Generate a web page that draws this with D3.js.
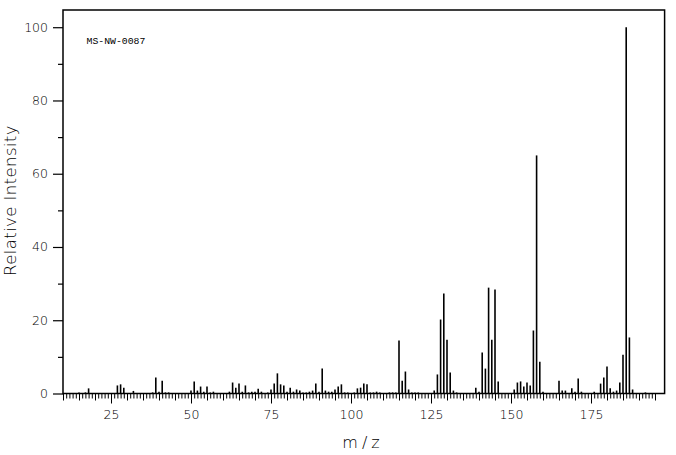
<!DOCTYPE html>
<html>
<head>
<meta charset="utf-8">
<script src="https://cdn.jsdelivr.net/npm/d3@7/dist/d3.min.js"></script>
<style>
  html, body { margin: 0; padding: 0; background: #fff; }
  svg { display: block; }
</style>
</head>
<body>
<svg id="chart" width="676" height="455"></svg>
<script>
// ---- data ----
const mzValues = [15,17,18,27,28,29,32,38,39,40,41,42,43,50,51,52,53,54,55,56,57,
  62,63,64,65,66,67,68,69,70,71,72,74,75,76,77,78,79,80,81,82,83,84,85,86,87,88,89,90,
  91,92,93,94,95,96,97,98,99,101,102,103,104,105,106,107,108,109,112,113,114,
  115,116,117,118,119,120,121,126,127,128,129,130,131,132,133,139,140,141,142,143,144,
  145,146,151,152,153,154,155,156,157,158,159,160,165,166,167,169,170,171,172,176,
  178,179,180,181,182,183,184,185,186,187,188,192];
const intensities = [0.3,0.3,1.4,2.2,2.5,1.6,0.7,0.3,4.4,0.5,3.5,0.3,0.3,0.8,3.3,0.8,1.9,0.5,1.9,0.3,0.5,
  0.5,3.0,1.6,2.7,0.5,2.2,0.3,0.5,0.5,1.3,0.5,0.3,1.1,2.7,5.5,2.5,2.2,0.5,1.6,0.5,1.1,0.8,0.3,0.3,0.5,0.8,2.7,0.5,
  6.8,0.8,0.5,0.5,1.1,1.9,2.5,0.3,0.3,0.3,1.4,1.6,2.7,2.5,0.3,0.3,0.5,0.3,0.3,0.3,0.3,
  14.5,3.5,6.0,1.1,0.3,0.3,0.3,0.8,5.2,20.2,27.3,14.7,5.7,0.8,0.3,1.6,0.5,11.2,6.8,28.9,14.7,
  28.4,3.3,1.1,3.0,3.3,1.9,3.0,2.2,17.2,65.0,8.7,0.5,3.5,0.8,0.8,1.4,0.5,4.1,0.5,0.5,
  2.7,4.4,7.4,1.4,0.5,0.8,3.0,10.6,100,15.3,1.1,0.3];
const xDomain = [10, 198];
const yDomain = [0, 104.7];
const xTickValues = d3.range(10, 196, 1);
const xLabelValues = [25, 50, 75, 100, 125, 150, 175];
const yTickValues = [0, 10, 20, 30, 40, 50, 60, 70, 80, 90, 100];
const yLabelValues = [0, 20, 40, 60, 80, 100];
const sampleLabel = "MS-NW-0087";
const xTitle = "m/z";
const yTitle = "Relative Intensity";

// ---- layout ----
const plotLeft = 63, plotRight = 664.6, plotTop = 10, plotBottom = 393.5;
const svg = d3.select("#chart");
const font = "'DejaVu Sans', sans-serif";

const x = d3.scaleLinear().domain(xDomain).range([plotLeft, plotRight]);
const y = d3.scaleLinear().domain(yDomain).range([plotBottom, plotTop]);

// bars
svg.append("g")
  .selectAll("line")
  .data(mzValues.map((m, i) => ({ m, v: intensities[i] })))
  .join("line")
  .attr("x1", d => x(d.m)).attr("x2", d => x(d.m))
  .attr("y1", y(0)).attr("y2", d => y(d.v))
  .attr("stroke", "#000").attr("stroke-width", 1.6);

// x axis
const xAxis = svg.append("g")
  .attr("transform", `translate(0,${plotBottom})`)
  .call(d3.axisBottom(x)
    .tickValues(xTickValues)
    .tickSize(5)
    .tickSizeOuter(0)
    .tickFormat(d => xLabelValues.includes(d) ? d : ""));
xAxis.select(".domain").remove();
xAxis.selectAll(".tick line")
  .attr("stroke", "#000").attr("stroke-width", 1)
  .attr("y2", d => d % 25 === 0 ? 10 : (d % 5 === 0 ? 7 : 5));
xAxis.selectAll(".tick text")
  .attr("y", 0).attr("dy", 0)
  .attr("transform", "translate(0,25.5)")
  .attr("font-family", font).attr("font-size", 12.5).attr("font-weight", 200)
  .attr("fill", "#000");

// y axis
const yAxis = svg.append("g")
  .attr("transform", `translate(${plotLeft},0)`)
  .call(d3.axisLeft(y)
    .tickValues(yTickValues)
    .tickSize(10)
    .tickSizeOuter(0)
    .tickFormat(d => yLabelValues.includes(d) ? d : ""));
yAxis.select(".domain").remove();
yAxis.selectAll(".tick line")
  .attr("stroke", "#000").attr("stroke-width", 1.2)
  .attr("x2", d => d % 20 === 0 ? -10 : -5);
yAxis.selectAll(".tick text")
  .attr("x", -15)
  .attr("font-family", font).attr("font-size", 12.5).attr("font-weight", 200)
  .attr("fill", "#000");

// frame
svg.append("rect")
  .attr("x", plotLeft).attr("y", plotTop)
  .attr("width", plotRight - plotLeft).attr("height", plotBottom - plotTop)
  .attr("fill", "none").attr("stroke", "#000").attr("stroke-width", 1.5);

// sample label
svg.append("text")
  .attr("x", 86.5).attr("y", 44.3)
  .attr("font-family", "'Liberation Mono', monospace")
  .attr("font-size", 9.8)
  .attr("fill", "#000")
  .text(sampleLabel);

// axis titles
svg.append("text")
  .attr("x", 363).attr("y", 448)
  .attr("text-anchor", "middle")
  .attr("font-family", font).attr("font-size", 16).attr("font-weight", 200)
  .attr("letter-spacing", 4)
  .attr("fill", "#000")
  .text(xTitle);

svg.append("text")
  .attr("transform", `translate(16,${(126 + 275) / 2}) rotate(-90)`)
  .attr("text-anchor", "middle")
  .attr("font-family", font).attr("font-size", 16.5).attr("font-weight", 200)
  .attr("letter-spacing", 0.4)
  .attr("fill", "#000")
  .text(yTitle);
</script>
</body>
</html>
